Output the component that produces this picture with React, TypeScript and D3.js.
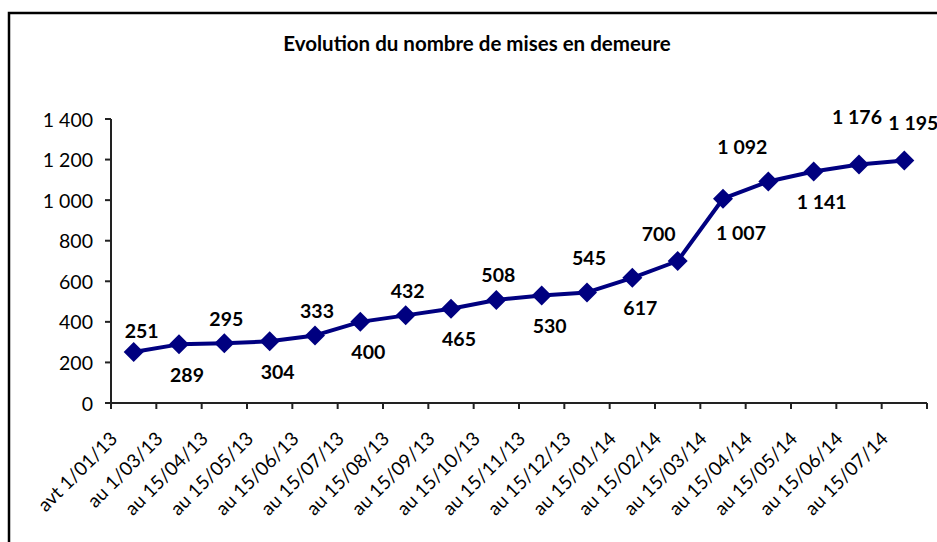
import React from "react";
import * as d3 from "d3";

const categories = [
  "avt 1/01/13",
  "au 1/03/13",
  "au 15/04/13",
  "au 15/05/13",
  "au 15/06/13",
  "au 15/07/13",
  "au 15/08/13",
  "au 15/09/13",
  "au 15/10/13",
  "au 15/11/13",
  "au 15/12/13",
  "au 15/01/14",
  "au 15/02/14",
  "au 15/03/14",
  "au 15/04/14",
  "au 15/05/14",
  "au 15/06/14",
  "au 15/07/14",
];

const values = [
  251, 289, 295, 304, 333, 400, 432, 465, 508, 530, 545, 617, 700, 1007, 1092,
  1141, 1176, 1195,
];

const yTicks = [0, 200, 400, 600, 800, 1000, 1200, 1400];

const title = "Evolution du nombre de mises en demeure";

const width = 937;
const height = 542;
const navy = "#000080";
const font = "Lato, 'Noto Sans', sans-serif";

// french style: space as thousands separator
const fmt = d3
  .formatLocale({ decimal: ",", thousands: " ", grouping: [3], currency: ["", ""] })
  .format(",d");

// hand-moved labels (like in the original sheet), [dx, dy] by point index
const labelNudge: Record<number, [number, number]> = {
  0: [6, 3],
  10: [0, -10],
  12: [-21, -3],
  13: [10, 4],
  14: [-28, -10],
  16: [-4, -23],
  17: [7, -13],
};

const App = () => {
  const x = d3.scaleBand<string>().domain(categories).range([111, 927]).padding(0);
  const y = d3.scaleLinear().domain([0, 1400]).range([403, 119]);
  const cx = (c: string) => (x(c) as number) + x.bandwidth() / 2;

  const line = d3
    .line<number>()
    .x((_, i) => cx(categories[i]))
    .y((d) => y(d));

  // labels alternate above / below, last one above
  const above = (i: number) => i % 2 === 0 || i === values.length - 1;

  const edges = categories.map((c) => x(c) as number).concat([x.range()[1]]);

  return (
    <svg
      width={width}
      height={height}
      style={{ position: "fixed", left: 0, top: 0, background: "#fff" }}
      fontFamily={font}
    >
      <rect x={9} y={13} width={1200} height={1200} fill="#fff" stroke="#000" strokeWidth={2.5} />

      <text x={477} y={43} textAnchor="middle" dominantBaseline="central" fontSize={20.5} fontWeight="bold">
        {title}
      </text>

      {/* Y axis */}
      <line x1={111} x2={111} y1={y(1400)} y2={y(0)} stroke="#222" strokeWidth={2} />
      {yTicks.map((t) => (
        <g key={t}>
          <line x1={105} x2={111} y1={y(t)} y2={y(t)} stroke="#222" strokeWidth={2} />
          <text x={93} y={y(t)} textAnchor="end" dominantBaseline="central" fontSize={19.5}>
            {fmt(t)}
          </text>
        </g>
      ))}

      {/* X axis */}
      <line x1={111} x2={927} y1={y(0)} y2={y(0)} stroke="#222" strokeWidth={2} />
      {edges.map((e, i) => (
        <line key={i} x1={e} x2={e} y1={y(0)} y2={y(0) + 6} stroke="#222" strokeWidth={2} />
      ))}
      {categories.map((c) => {
        const ax = cx(c) - 15;
        const ay = 440;
        return (
          <text
            key={c}
            x={ax}
            y={ay}
            textAnchor="end"
            fontSize={19}
            transform={`rotate(-45, ${ax}, ${ay})`}
          >
            {c}
          </text>
        );
      })}

      {/* series */}
      <path d={line(values) || ""} fill="none" stroke={navy} strokeWidth={4} strokeLinejoin="round" />
      {values.map((v, i) => {
        const px = cx(categories[i]);
        const py = y(v);
        const s = 10;
        return (
          <path
            key={i}
            d={`M${px},${py - s}L${px + s},${py}L${px},${py + s}L${px - s},${py}Z`}
            fill={navy}
          />
        );
      })}
      {values.map((v, i) => {
        const [ndx, ndy] = labelNudge[i] || [0, 0];
        const dx = (above(i) ? 2 : 8) + ndx;
        const dy = (above(i) ? -25 : 30) + ndy;
        return (
          <text
            key={i}
            x={cx(categories[i]) + dx}
            y={y(v) + dy}
            textAnchor="middle"
            dominantBaseline="central"
            fontSize={19.5}
            fontWeight="bold"
          >
            {fmt(v)}
          </text>
        );
      })}
    </svg>
  );
};

export default App;
